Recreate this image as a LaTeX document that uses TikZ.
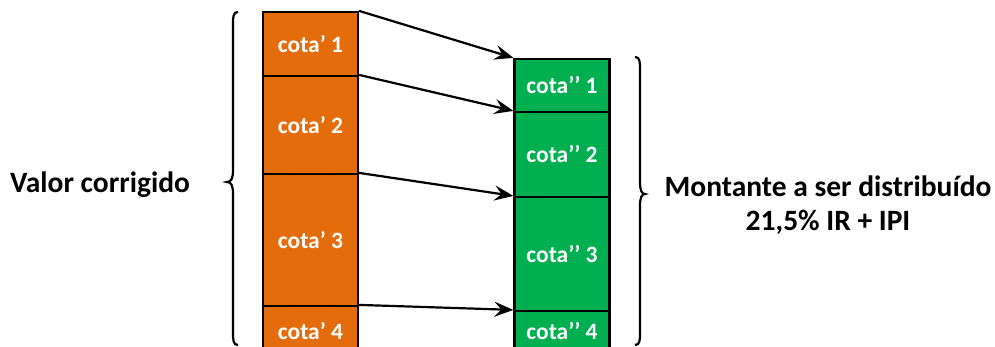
\documentclass[tikz,border=0pt]{standalone}
\usepackage{fontspec}
\setmainfont{Carlito}
\usetikzlibrary{arrows.meta}

\definecolor{cotaorange}{HTML}{E46C0A}
\definecolor{cotagreen}{HTML}{00B050}

\tikzset{
  cota/.style={draw=black, line width=2.2pt, minimum width=95pt, inner sep=0pt,
    text=white, font=\bfseries\fontsize{23.5}{26}\selectfont},
  velha/.style={cota, fill=cotaorange},
  nova/.style={cota, fill=cotagreen},
  seta/.style={line width=2.2pt, -{Stealth[length=19pt,width=15pt,inset=7pt]}},
  chave/.style={line width=2.2pt},
  rotulo/.style={font=\bfseries\fontsize{29.5}{34}\selectfont, align=center}
}

\begin{document}
\begin{tikzpicture}[x=1pt,y=-1pt]
\useasboundingbox (0,0) rectangle (995,347);
\clip (0,0) rectangle (995,347);

% coluna da esquerda
\node[velha, minimum height=64pt] (o1) at (310.5,44) {cota’ 1};
\node[velha, minimum height=98pt] (o2) at (310.5,125) {cota’ 2};
\node[velha, minimum height=132pt] (o3) at (310.5,240) {cota’ 3};
\node[velha, minimum height=50pt] (o4) at (310.5,331) {cota’ 4};

% coluna da direita
\node[nova, minimum height=53pt] (g1) at (562,85.5) {cota’’ 1};
\node[nova, minimum height=85pt] (g2) at (562,154.5) {cota’’ 2};
\node[nova, minimum height=114pt] (g3) at (562,254) {cota’’ 3};
\node[nova, minimum height=40pt] (g4) at (562,331) {cota’’ 4};

\draw[seta] (o1.north east) -- (g1.north west);
\draw[seta] (o2.north east) -- (g2.north west);
\draw[seta] (o3.north east) -- (g3.north west);
\draw[seta] (o4.north east) -- (g4.north west);

% chaves
\draw[chave] (238,12) .. controls (233,12) and (233,17) .. (233,25) -- (233,170)
  .. controls (233,179) and (231,182) .. (227,182)
  .. controls (231,182) and (233,185) .. (233,194) -- (233,332)
  .. controls (233,340) and (233,345) .. (238,345);
\draw[chave] (635,57) .. controls (640,57) and (640,62) .. (640,70) -- (640,182)
  .. controls (640,191) and (642,194) .. (645,194)
  .. controls (642,194) and (640,197) .. (640,206) -- (640,332)
  .. controls (640,340) and (640,345) .. (635,345);

\node[rotulo] (valor) at (100,185) {Valor corrigido};
\node[rotulo] (montante) at (828,205) {Montante a ser distribuído\\21,5\% IR + IPI};
\end{tikzpicture}
\end{document}
